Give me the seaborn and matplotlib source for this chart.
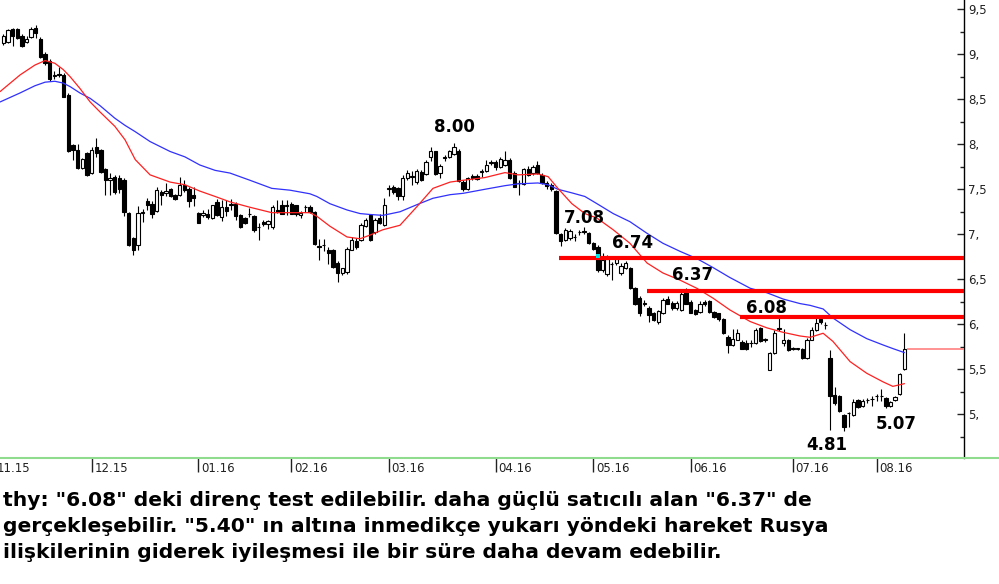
import numpy as np
import pandas as pd
import matplotlib
matplotlib.use('Agg')
import matplotlib.pyplot as plt
import matplotlib.transforms as mtransforms
from matplotlib.lines import Line2D
from matplotlib.ticker import MultipleLocator, FuncFormatter
import seaborn as sns

# ---- daily OHLC, Nov 2015 - Aug 2016 ----
opens = [9.12, 9.14, 9.28, 9.28, 9.20, 9.14, 9.19, 9.29, 9.17, 9.00,
         8.93, 8.76, 8.78, 8.77, 8.55, 7.99, 7.94, 7.74, 7.90, 7.68,
         7.97, 7.94, 7.73, 7.60, 7.64, 7.62, 7.60, 7.24, 6.96, 6.88,
         7.24, 7.37, 7.34, 7.26, 7.47, 7.46, 7.50, 7.44, 7.44, 7.55,
         7.50, 7.44, 7.24, 7.21, 7.23, 7.18, 7.36, 7.19, 7.30, 7.33,
         7.34, 7.21, 7.18, 7.22, 7.20, 7.08, 7.14, 7.11, 7.08, 7.27,
         7.325, 7.31, 7.34, 7.32, 7.21, 7.30, 7.30, 7.25, 6.87, 6.88,
         6.83, 6.83, 6.68, 6.57, 6.58, 6.83, 6.93, 6.94, 7.09, 7.21,
         7.03, 7.18, 7.10, 7.50, 7.52, 7.51, 7.43, 7.62, 7.64, 7.58,
         7.69, 7.67, 7.86, 7.92, 7.685, 7.85, 7.86, 7.89, 7.93, 7.585,
         7.50, 7.65, 7.65, 7.69, 7.70, 7.79, 7.80, 7.75, 7.77, 7.83,
         7.68, 7.57, 7.56, 7.73, 7.68, 7.77, 7.66, 7.57, 7.55, 7.48,
         7.00, 6.94, 6.96, 6.97, 7.02, 7.04, 7.01, 6.90, 6.86, 6.60,
         6.56, 6.67, 6.68, 6.57, 6.63, 6.63, 6.40, 6.29, 6.22, 6.18,
         6.13, 6.02, 6.12, 6.28, 6.24, 6.18, 6.16, 6.37, 6.25, 6.16,
         6.14, 6.25, 6.26, 6.14, 6.12, 6.06, 5.86, 5.77, 5.83, 5.80,
         5.79, 5.79, 5.79, 5.96, 5.83, 5.49, 5.68, 5.95, 5.79, 5.83,
         5.73, 5.73, 5.73, 5.63, 5.83, 5.94, 6.06, 5.99, 5.62, 5.21,
         5.20, 4.99, 5.01, 4.99, 5.16, 5.09, 5.16, 5.17, 5.20, 5.20,
         5.18, 5.09, 5.16, 5.22, 5.50]
highs = [9.22, 9.28, 9.29, 9.29, 9.22, 9.20, 9.30, 9.33, 9.19, 9.02,
         8.95, 8.81, 8.86, 8.79, 8.57, 8.00, 8.00, 7.85, 7.91, 7.97,
         8.07, 7.95, 7.74, 7.68, 7.66, 7.66, 7.62, 7.25, 6.97, 7.31,
         7.28, 7.40, 7.37, 7.52, 7.49, 7.57, 7.51, 7.45, 7.64, 7.60,
         7.53, 7.53, 7.25, 7.27, 7.28, 7.33, 7.39, 7.38, 7.38, 7.39,
         7.36, 7.22, 7.19, 7.29, 7.21, 7.12, 7.16, 7.16, 7.33, 7.38,
         7.38, 7.38, 7.36, 7.33, 7.26, 7.33, 7.32, 7.26, 6.95, 6.95,
         6.86, 6.84, 6.70, 6.63, 6.86, 6.97, 6.96, 7.12, 7.18, 7.23,
         7.18, 7.22, 7.40, 7.55, 7.55, 7.53, 7.66, 7.71, 7.70, 7.72,
         7.71, 7.83, 7.97, 7.93, 7.78, 7.88, 7.94, 8.01, 7.95, 7.60,
         7.64, 7.67, 7.67, 7.72, 7.82, 7.82, 7.82, 7.86, 7.92, 7.85,
         7.70, 7.60, 7.74, 7.76, 7.77, 7.81, 7.68, 7.59, 7.57, 7.49,
         7.01, 7.07, 7.06, 7.00, 7.05, 7.08, 7.03, 6.91, 6.88, 6.79,
         6.77, 6.69, 6.75, 6.68, 6.70, 6.64, 6.41, 6.31, 6.27, 6.20,
         6.14, 6.16, 6.29, 6.31, 6.26, 6.26, 6.37, 6.40, 6.27, 6.17,
         6.26, 6.27, 6.27, 6.15, 6.13, 6.07, 5.88, 5.95, 5.95, 5.82,
         5.83, 5.82, 5.96, 5.97, 5.85, 5.69, 5.94, 6.08, 5.95, 5.84,
         5.75, 5.74, 5.74, 5.85, 5.97, 6.08, 6.08, 6.02, 5.71, 5.30,
         5.21, 5.00, 5.03, 5.17, 5.17, 5.17, 5.18, 5.20, 5.22, 5.28,
         5.19, 5.15, 5.20, 5.46, 5.90]
lows = [9.10, 9.13, 9.09, 9.17, 9.08, 9.13, 9.18, 9.18, 8.96, 8.88,
        8.70, 8.72, 8.75, 8.52, 7.91, 7.83, 7.72, 7.73, 7.65, 7.67,
        7.86, 7.68, 7.44, 7.44, 7.45, 7.46, 7.20, 6.87, 6.77, 6.82,
        7.14, 7.27, 7.18, 7.25, 7.33, 7.42, 7.41, 7.38, 7.43, 7.47,
        7.30, 7.31, 7.12, 7.19, 7.17, 7.17, 7.20, 7.15, 7.20, 7.27,
        7.16, 7.07, 7.11, 7.19, 7.03, 6.94, 7.09, 7.06, 7.06, 7.24,
        7.22, 7.21, 7.22, 7.20, 7.18, 7.25, 7.24, 6.88, 6.71, 6.81,
        6.67, 6.63, 6.47, 6.55, 6.56, 6.82, 6.84, 6.93, 7.08, 6.93,
        7.00, 7.11, 7.09, 7.42, 7.45, 7.38, 7.38, 7.60, 7.55, 7.56,
        7.59, 7.66, 7.81, 7.66, 7.62, 7.81, 7.85, 7.88, 7.58, 7.48,
        7.49, 7.60, 7.60, 7.64, 7.69, 7.77, 7.71, 7.74, 7.76, 7.61,
        7.52, 7.44, 7.55, 7.65, 7.66, 7.67, 7.56, 7.50, 7.48, 7.00,
        6.87, 6.92, 6.94, 6.93, 6.99, 7.00, 6.89, 6.83, 6.58, 6.58,
        6.54, 6.49, 6.66, 6.55, 6.61, 6.39, 6.21, 6.09, 6.20, 6.03,
        6.04, 6.00, 6.11, 6.22, 6.16, 6.16, 6.15, 6.22, 6.12, 6.10,
        6.13, 6.20, 6.13, 6.07, 6.04, 5.89, 5.68, 5.76, 5.82, 5.72,
        5.71, 5.75, 5.78, 5.80, 5.80, 5.49, 5.67, 5.93, 5.76, 5.70,
        5.71, 5.71, 5.61, 5.61, 5.82, 5.93, 6.00, 5.95, 4.83, 5.10,
        5.03, 4.81, 4.86, 4.98, 5.07, 5.08, 5.12, 5.09, 5.15, 5.15,
        5.07, 5.08, 5.15, 5.21, 5.49]
closes = [9.20, 9.27, 9.20, 9.18, 9.09, 9.17, 9.28, 9.24, 8.97, 8.90,
          8.72, 8.77, 8.77, 8.53, 7.92, 7.94, 7.74, 7.84, 7.66, 7.94,
          7.90, 7.69, 7.60, 7.63, 7.47, 7.50, 7.25, 6.88, 6.83, 7.24,
          7.25, 7.33, 7.23, 7.49, 7.44, 7.48, 7.42, 7.39, 7.55, 7.49,
          7.37, 7.40, 7.13, 7.24, 7.19, 7.325, 7.21, 7.30, 7.26, 7.34,
          7.20, 7.08, 7.12, 7.23, 7.05, 7.08, 7.11, 7.15, 7.30, 7.25,
          7.23, 7.32, 7.23, 7.22, 7.24, 7.30, 7.25, 6.89, 6.86, 6.88,
          6.79, 6.64, 6.57, 6.62, 6.84, 6.94, 6.86, 7.10, 7.16, 6.94,
          7.16, 7.13, 7.32, 7.51, 7.47, 7.42, 7.63, 7.68, 7.65, 7.70,
          7.60, 7.80, 7.92, 7.67, 7.76, 7.86, 7.92, 7.97, 7.59, 7.50,
          7.62, 7.62, 7.61, 7.70, 7.77, 7.80, 7.75, 7.84, 7.83, 7.62,
          7.53, 7.57, 7.72, 7.66, 7.75, 7.68, 7.57, 7.54, 7.50, 7.01,
          6.92, 7.05, 7.04, 6.97, 7.03, 7.03, 6.90, 6.84, 6.60, 6.71,
          6.72, 6.67, 6.73, 6.65, 6.68, 6.40, 6.22, 6.12, 6.24, 6.10,
          6.05, 6.15, 6.27, 6.23, 6.18, 6.24, 6.34, 6.23, 6.13, 6.11,
          6.23, 6.22, 6.14, 6.08, 6.06, 5.90, 5.77, 5.84, 5.90, 5.73,
          5.72, 5.79, 5.94, 5.81, 5.83, 5.68, 5.90, 5.95, 5.83, 5.71,
          5.73, 5.73, 5.62, 5.83, 5.94, 6.01, 6.03, 5.99, 5.20, 5.12,
          5.04, 4.86, 5.01, 5.14, 5.08, 5.15, 5.16, 5.17, 5.20, 5.20,
          5.09, 5.14, 5.19, 5.45, 5.73]

# first trading day of each month (bar number)
month_bars = [-2, 19, 42, 62, 83, 106, 127, 148, 170, 188]
month_labels = ['11.15', '12.15', '01.16', '02.16', '03.16', '04.16',
                '05.16', '06.16', '07.16', '08.16']

# moving averages as drawn (bar number, price)
ma_bar = [-0.7, 3.6, 6.8, 9.0, 11.1, 12.9, 14.4, 16.5, 18.7, 20.8, 24.0, 26.2,
          28.4, 31.6, 35.9, 39.1, 42.3, 45.6, 48.8, 53.1, 57.8, 61.7, 66.0,
          67.5, 70.3, 74.0, 76.8, 78.9, 81.7, 85.4, 89.1, 92.5, 96.2, 99.0,
          103.7, 108.0, 110.8, 115.1, 117.3, 119.4, 122.4, 125.2, 127.8,
          131.3, 134.9, 138.6, 142.0, 145.7, 149.3, 152.8, 156.4, 160.8,
          164.4, 167.9, 171.5, 173.7, 176.5, 178.6, 182.3, 185.9, 189.4,
          191.5, 194.0]
ma_fast = [8.585, 8.77, 8.88, 8.93, 8.90, 8.83, 8.75, 8.62, 8.47, 8.36, 8.20,
           8.05, 7.83, 7.66, 7.58, 7.55, 7.48, 7.42, 7.36, 7.30, 7.24, 7.24,
           7.24, 7.20, 7.09, 6.97, 6.95, 6.99, 7.05, 7.10, 7.31, 7.51, 7.58,
           7.60, 7.63, 7.685, 7.66, 7.67, 7.64, 7.51, 7.34, 7.23, 7.18, 7.05,
           6.90, 6.68, 6.57, 6.49, 6.40, 6.29, 6.16, 6.03, 5.96, 5.91, 5.87,
           5.855, 5.90, 5.81, 5.585, 5.455, 5.36, 5.31, 5.34]
ma_slow = [8.47, 8.57, 8.65, 8.69, 8.70, 8.68, 8.64, 8.57, 8.51, 8.43, 8.29,
           8.21, 8.14, 8.03, 7.92, 7.86, 7.77, 7.71, 7.68, 7.60, 7.51, 7.49,
           7.45, 7.42, 7.34, 7.27, 7.23, 7.22, 7.21, 7.25, 7.33, 7.40, 7.44,
           7.455, 7.50, 7.54, 7.56, 7.57, 7.55, 7.50, 7.46, 7.42, 7.34, 7.23,
           7.14, 7.01, 6.90, 6.81, 6.73, 6.63, 6.52, 6.40, 6.35, 6.28, 6.23,
           6.21, 6.17, 6.07, 5.94, 5.84, 5.77, 5.73, 5.685]

# resistance levels and the bar where each line starts
levels = [6.74, 6.37, 6.08]
level_from = [119.6, 138.6, 158.6]

notes = ['8.00', '7.08', '6.74', '6.37', '6.08', '4.81', '5.07']

comment = ['thy: "6.08" deki direnç test edilebilir. daha güçlü satıcılı alan "6.37" de',
           'gerçekleşebilir. "5.40" ın altına inmedikçe yukarı yöndeki hareket Rusya',
           'ilişkilerinin giderek iyileşmesi ile bir süre daha devam edebilir.']

# ==========
sns.set_style('white')
plt.rcParams['font.family'] = ['DejaVu Sans']
plt.rcParams['text.color'] = 'black'

W, H = 999, 584
fig = plt.figure(figsize=(W / 100, H / 100), dpi=100)
ax = fig.add_axes([-20 / W, 126 / H, 984 / W, 458 / H])
x_right = (964 - 3.3) / 4.645
ax.set_xlim((-20 - 3.3) / 4.645, x_right)
ax.set_ylim(4.514, 9.603)

df = pd.DataFrame({'o': opens, 'h': highs, 'l': lows, 'c': closes})
df['bar'] = np.arange(len(df))
df['lo'] = df[['o', 'c']].min(axis=1)
df['hgt'] = (df['c'] - df['o']).abs().clip(lower=0.004)
up = df['c'] >= df['o']

ax.vlines(df['bar'], df['l'], df['h'], color='black', lw=0.8, zorder=2)
ax.bar(df['bar'][up], df['hgt'][up], bottom=df['lo'][up], width=0.72,
       color='white', edgecolor='black', lw=0.8, zorder=3)
ax.bar(df['bar'][~up], df['hgt'][~up], bottom=df['lo'][~up], width=0.72,
       color='black', edgecolor='black', lw=0.8, zorder=3)

sns.lineplot(x=ma_bar, y=ma_slow, color='#3030ff', lw=0.9, ax=ax, estimator=None, zorder=4)
sns.lineplot(x=ma_bar, y=ma_fast, color='#ff2020', lw=0.9, ax=ax, estimator=None, zorder=4)

# resistance lines and last price line
ax.hlines(levels, level_from, x_right, color='#ff0000', lw=3, zorder=5)
ax.hlines(closes[-1], len(closes) - 0.4, x_right, color='#ff8080', lw=1.2, zorder=5)
ax.scatter([128], [6.755], marker='s', s=9, color='#00e5e5', zorder=6, linewidths=0)

# level / peak annotations
note_xy = [(97.2, 8.140), (125.2, 7.129), (135.4, 6.844), (148.3, 6.492),
           (164.2, 6.129), (177.3, 4.603), (192.2, 4.837)]
for (nx, ny), s in zip(note_xy, notes):
    ax.text(nx, ny, s, ha='center', va='baseline', fontsize=12,
            fontweight='bold', color='black', zorder=7)

# right price axis
for side in ['left', 'top', 'bottom']:
    ax.spines[side].set_visible(False)
ax.spines['right'].set_color('black')
ax.spines['right'].set_linewidth(1)
ax.yaxis.tick_right()
ax.yaxis.set_major_locator(MultipleLocator(0.5))
ax.yaxis.set_minor_locator(MultipleLocator(0.25))
ax.yaxis.set_major_formatter(FuncFormatter(
    lambda v, p: f'{int(round(v))},' if abs(v - round(v)) < 1e-6 else f'{int(v)},5'))
ax.tick_params(axis='y', which='major', direction='in', length=5, width=1,
               labelsize=8.5, pad=3, colors='#222222', right=True, left=False)
ax.tick_params(axis='y', which='minor', direction='in', length=3, width=1,
               color='#222222', right=True, left=False)

# month axis
ax.set_xticks(month_bars)
ax.set_xticklabels(month_labels)
ax.tick_params(axis='x', direction='out', length=10, width=1, pad=-7,
               labelsize=8.5, colors='#222222', bottom=True)
shift = mtransforms.ScaledTranslation(2 / 72, 0, fig.dpi_scale_trans)
for lab in ax.get_xticklabels():
    lab.set_ha('left')
    lab.set_transform(lab.get_transform() + shift)
ax.grid(False)

fig.add_artist(Line2D([0, 1], [126 / H, 126 / H], color='#8fdc8f', lw=1.5,
                      transform=fig.transFigure))

for k, line in enumerate(comment):
    fig.text(3 / W, 1 - (500 + 26 * k) / H, line, ha='left', va='center',
             fontsize=14.6, fontweight='bold', color='black')

fig.savefig('out.png', dpi=100)
